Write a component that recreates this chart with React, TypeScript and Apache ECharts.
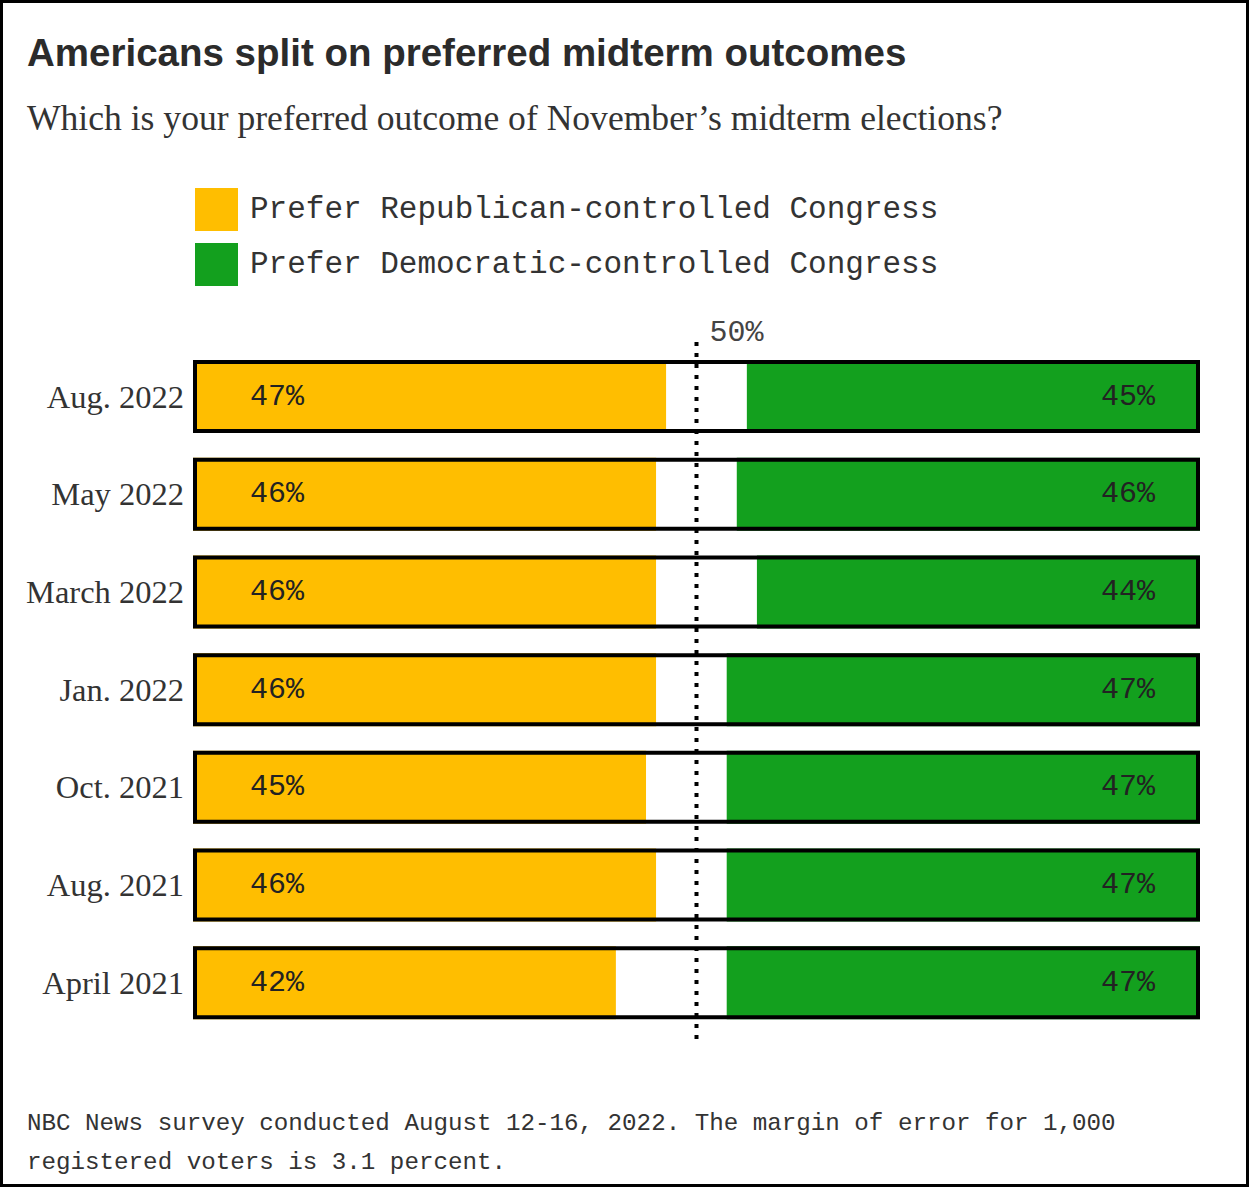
import React, { useEffect, useRef } from "react";
import * as echarts from "echarts";

const categories = ["Aug. 2022", "May 2022", "March 2022", "Jan. 2022", "Oct. 2021", "Aug. 2021", "April 2021"];
const republican = [47, 46, 46, 46, 45, 46, 42];
const democratic = [45, 46, 44, 47, 47, 47, 47];
const seriesNames = ["Prefer Republican-controlled Congress", "Prefer Democratic-controlled Congress"];
const referenceValue = 50;
const titleText = "Americans split on preferred midterm outcomes";
const subtitleText = "Which is your preferred outcome of November\u2019s midterm elections?";
const footnoteText =
  "NBC News survey conducted August 12-16, 2022. The margin of error for 1,000\nregistered voters is 3.1 percent.";

const YELLOW = "#FFBE00";
const GREEN = "#13A01E";
const MONO = "'Liberation Mono', monospace";
const SERIF = "'Liberation Serif', serif";
const SANS = "'Liberation Sans', Arial, sans-serif";

export default function App() {
  const ref = useRef<HTMLDivElement>(null);

  useEffect(() => {
    if (!ref.current) return;
    const chart = echarts.init(ref.current, undefined, { renderer: "svg" });
    const gap = republican.map((r, i) => 100 - r - democratic[i]);
    const barWidth = 73;

    chart.setOption({
      animation: false,
      backgroundColor: "#fff",
      title: [
        {
          text: titleText,
          left: 27,
          top: 30,
          padding: 0,
          textStyle: { fontFamily: SANS, fontWeight: "bold", fontSize: 38.5, lineHeight: 44, color: "#2b2b2b" },
        },
        {
          text: subtitleText,
          left: 27,
          top: 97,
          padding: 0,
          textStyle: { fontFamily: SERIF, fontWeight: "normal", fontSize: 35.6, lineHeight: 42, color: "#333" },
        },
        {
          text: footnoteText,
          left: 27,
          top: 1104,
          padding: 0,
          textStyle: { fontFamily: MONO, fontWeight: "normal", fontSize: 24.2, lineHeight: 39, color: "#333" },
        },
      ],
      legend: {
        data: seriesNames,
        orient: "vertical",
        left: 195,
        top: 188,
        padding: 0,
        itemWidth: 43,
        itemHeight: 43,
        itemGap: 12,
        icon: "rect",
        selectedMode: false,
        textStyle: { fontFamily: MONO, fontSize: 31, color: "#333", padding: [0, 0, 0, 7] },
      },
      grid: { left: 193, right: 50, top: 347.65, bottom: 155.4, containLabel: false },
      xAxis: {
        type: "value",
        min: 0,
        max: 100,
        show: false,
      },
      yAxis: {
        type: "category",
        data: categories,
        inverse: true,
        axisLine: { show: false },
        axisTick: { show: false },
        axisLabel: { fontFamily: SERIF, fontSize: 32.5, color: "#333", margin: 9 },
      },
      series: [
        {
          name: seriesNames[0],
          type: "bar",
          stack: "total",
          barWidth,
          data: republican,
          itemStyle: { color: YELLOW },
          label: {
            show: true,
            position: "insideLeft",
            distance: 57,
            formatter: "{c}%",
            fontFamily: MONO,
            fontSize: 30,
            color: "#222",
          },
        },
        {
          name: "gap",
          type: "bar",
          stack: "total",
          barWidth,
          data: gap,
          silent: true,
          itemStyle: { color: "#fff" },
        },
        {
          name: seriesNames[1],
          type: "bar",
          stack: "total",
          barWidth,
          data: democratic,
          itemStyle: { color: GREEN },
          label: {
            show: true,
            position: "insideRight",
            distance: 45,
            formatter: "{c}%",
            fontFamily: MONO,
            fontSize: 30,
            color: "#222",
          },
        },
        {
          name: "frame",
          type: "bar",
          barWidth,
          barGap: "-100%",
          z: 5,
          silent: true,
          data: categories.map(() => 100),
          itemStyle: { color: "rgba(0,0,0,0)", borderColor: "#000", borderWidth: 4 },
        },
      ],
    });

    const px = chart.convertToPixel({ xAxisIndex: 0 }, referenceValue) as number;
    chart.setOption({
      graphic: [
        {
          type: "rect",
          id: "border",
          shape: { x: 1.5, y: 1.5, width: 1246, height: 1184 },
          style: { fill: "none", stroke: "#000", lineWidth: 3 },
          z: 10,
        },
        {
          type: "line",
          id: "refline",
          shape: { x1: px, y1: 342, x2: px, y2: 1040 },
          style: { stroke: "#000", lineWidth: 4, lineDash: [4, 7] },
          z: 20,
        },
        {
          type: "text",
          id: "reflabel",
          x: px + 13,
          y: 333,
          style: {
            text: `${referenceValue}%`,
            font: `30px ${MONO}`,
            fill: "#444",
            verticalAlign: "middle",
            align: "left",
          },
          z: 20,
        },
      ],
    });

    return () => chart.dispose();
  }, []);

  return <div ref={ref} style={{ position: "fixed", left: 0, top: 0, width: 1250, height: 1187 }} />;
}
